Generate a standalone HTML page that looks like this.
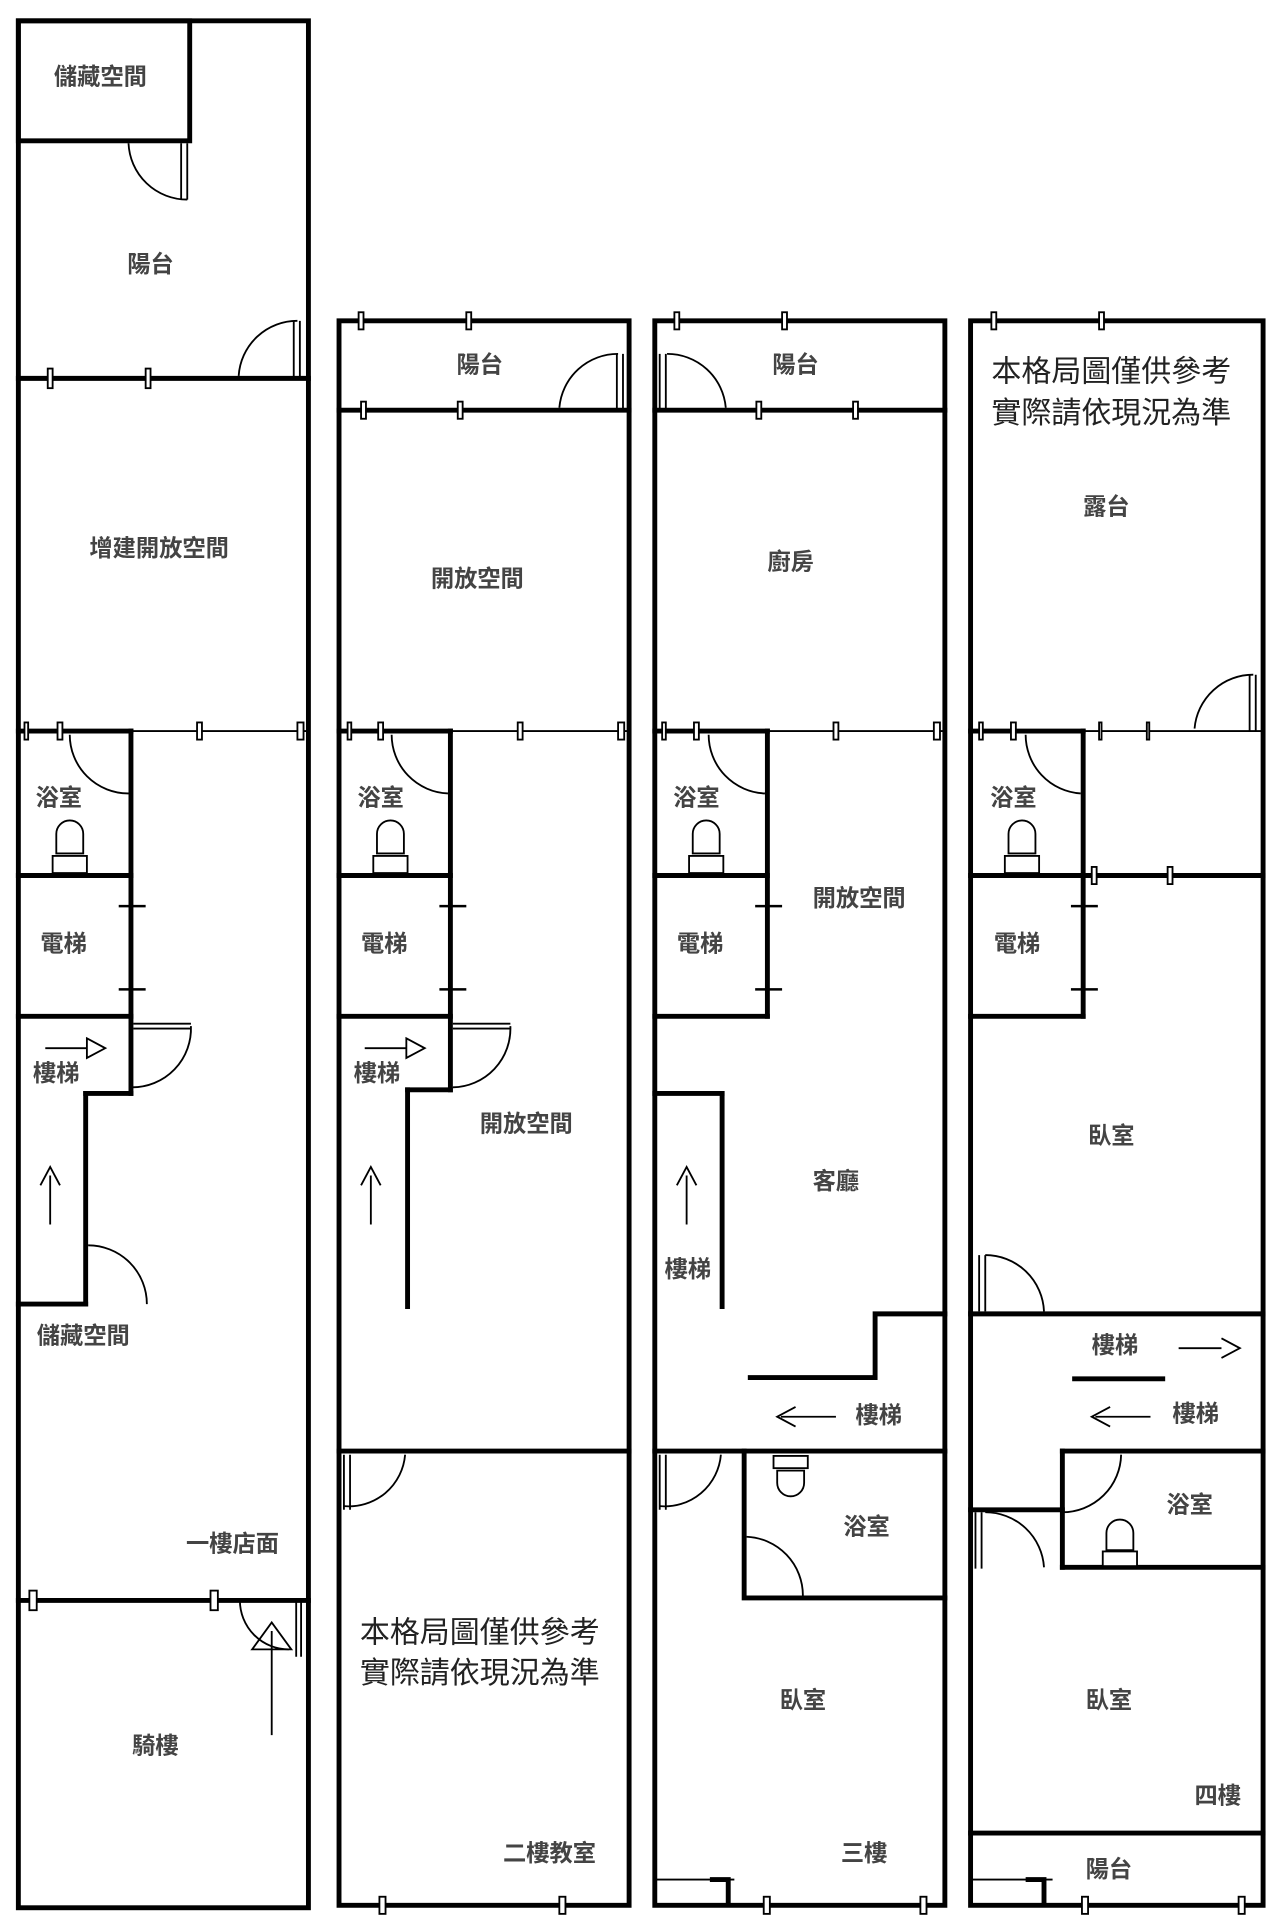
<!DOCTYPE html>
<html><head><meta charset="utf-8"><style>
html,body{margin:0;padding:0;background:#fff;}
svg{display:block;}
text{font-family:"Liberation Sans","Noto Sans CJK TC",sans-serif;fill:#444;font-size:19px;text-anchor:middle;dominant-baseline:middle;font-weight:bold;}
.n{fill:#222;font-weight:normal;font-size:24.5px;}
</style></head><body>
<svg width="1279" height="1920" viewBox="0 0 1045 1568" preserveAspectRatio="none" xmlns="http://www.w3.org/2000/svg">
<g stroke="#000" stroke-width="4" fill="none" stroke-linecap="square">
<rect x="15" y="17" width="237" height="1541"/>
<rect x="15" y="17" width="140" height="98"/>
<line x1="15" y1="309" x2="252" y2="309"/>
<line x1="15" y1="1307" x2="252" y2="1307"/>
<line x1="107" y1="597" x2="107" y2="893"/>
<line x1="15" y1="715" x2="107" y2="715"/>
<line x1="15" y1="830" x2="107" y2="830"/>
<line x1="70" y1="893" x2="107" y2="893"/>
<line x1="70" y1="893" x2="70" y2="1065"/>
<line x1="15" y1="1065" x2="70" y2="1065"/>
<line x1="15" y1="597" x2="107" y2="597"/>
<rect x="277" y="262" width="237" height="1294"/>
<line x1="277" y1="335" x2="514" y2="335"/>
<line x1="277" y1="597" x2="368" y2="597"/>
<line x1="368" y1="597" x2="368" y2="890"/>
<line x1="277" y1="715" x2="368" y2="715"/>
<line x1="277" y1="830" x2="368" y2="830"/>
<line x1="333" y1="890" x2="368" y2="890"/>
<line x1="333" y1="890" x2="333" y2="1067"/>
<line x1="277" y1="1185" x2="514" y2="1185"/>
<rect x="535" y="262" width="237" height="1294"/>
<line x1="535" y1="335" x2="772" y2="335"/>
<line x1="535" y1="597" x2="627" y2="597"/>
<line x1="627" y1="597" x2="627" y2="830"/>
<line x1="535" y1="715" x2="627" y2="715"/>
<line x1="535" y1="830" x2="627" y2="830"/>
<line x1="535" y1="893" x2="590" y2="893"/>
<line x1="590" y1="893" x2="590" y2="1067"/>
<polyline points="613,1125 715,1125 715,1073 772,1073"/>
<line x1="535" y1="1185" x2="772" y2="1185"/>
<polyline points="608,1185 608,1305 772,1305"/>
<rect x="793" y="262" width="239" height="1294"/>
<line x1="793" y1="597" x2="885" y2="597"/>
<line x1="885" y1="597" x2="885" y2="830"/>
<line x1="793" y1="715" x2="1032" y2="715"/>
<line x1="793" y1="830" x2="885" y2="830"/>
<line x1="793" y1="1073" x2="1032" y2="1073"/>
<line x1="878" y1="1126" x2="950" y2="1126"/>
<line x1="868" y1="1185" x2="1032" y2="1185"/>
<line x1="868" y1="1185" x2="868" y2="1280"/>
<line x1="868" y1="1280" x2="1032" y2="1280"/>
<line x1="793" y1="1233" x2="868" y2="1233"/>
<line x1="793" y1="1497" x2="1032" y2="1497"/>
</g>
<g stroke="#000" stroke-width="1.5" fill="none">
<line x1="107" y1="597" x2="252" y2="597"/>
<line x1="368" y1="597" x2="514" y2="597"/>
<line x1="627" y1="597" x2="772" y2="597"/>
<line x1="885" y1="597" x2="1032" y2="597"/>
<line x1="535" y1="1535" x2="600" y2="1535"/>
<line x1="793" y1="1535" x2="860" y2="1535"/>
</g>
<g fill="#fff" stroke="#000" stroke-width="1.5">
<rect x="39" y="301" width="4" height="16"/><rect x="119" y="301" width="4" height="16"/>
<rect x="24" y="1299" width="6" height="16"/><rect x="172" y="1299" width="6" height="16"/>
<rect x="20" y="590" width="3" height="14"/><rect x="47" y="590" width="4" height="14"/><rect x="161" y="590" width="4" height="14"/><rect x="243" y="590" width="5" height="14"/>
<rect x="293" y="255" width="4" height="14"/><rect x="381" y="255" width="4" height="14"/>
<rect x="295" y="328" width="4" height="14"/><rect x="374" y="328" width="4" height="14"/>
<rect x="284" y="590" width="3" height="14"/><rect x="309" y="590" width="4" height="14"/><rect x="423" y="590" width="4" height="14"/><rect x="505" y="590" width="5" height="14"/>
<rect x="310" y="1549" width="5" height="14"/><rect x="457" y="1549" width="5" height="14"/>
<rect x="551" y="255" width="4" height="14"/><rect x="639" y="255" width="4" height="14"/>
<rect x="618" y="328" width="4" height="14"/><rect x="697" y="328" width="4" height="14"/>
<rect x="541" y="590" width="3" height="14"/><rect x="567" y="590" width="4" height="14"/><rect x="681" y="590" width="4" height="14"/><rect x="763" y="590" width="5" height="14"/>
<rect x="624" y="1549" width="5" height="14"/><rect x="752" y="1549" width="5" height="14"/>
<rect x="810" y="255" width="4" height="14"/><rect x="898" y="255" width="4" height="14"/>
<rect x="800" y="590" width="3" height="14"/><rect x="826" y="590" width="4" height="14"/><rect x="937" y="590" width="2" height="14"/><rect x="898" y="590" width="2" height="14"/>
<rect x="892" y="708" width="4" height="14"/><rect x="954" y="708" width="4" height="14"/>
<rect x="884" y="1549" width="5" height="14"/><rect x="1012" y="1549" width="5" height="14"/>
</g>
<g stroke="#000" stroke-width="4" fill="none">
<polyline points="580,1535 595,1535 595,1556"/>
<polyline points="838,1535 853,1535 853,1556"/>
</g>
<g stroke="#000" stroke-width="2" fill="none">
<path d="M97 740h22M97 808h22M359 740h22M359 808h22M617 740h22M617 808h22M875 740h22M875 808h22"/>
</g>
<g stroke="#000" stroke-width="1.5" fill="none">
<path d="M105 117 A48 48 0 0 0 153 163"/><path d="M148 117v46M153 117v46"/>
<path d="M195 307 A48 48 0 0 1 243 262"/><path d="M240 262v46M245 262v46"/>
<path d="M57 600 A48 48 0 0 0 105 648"/>
<path d="M109 836h47M109 840h47"/><path d="M156 838 A48 48 0 0 1 108 888"/>
<path d="M72 1017 A48 48 0 0 1 120 1065"/>
<path d="M196 1307 A40 40 0 0 0 236 1347"/><path d="M242 1307v46M246 1307v46"/>
<path d="M457 333 A48 48 0 0 1 505 289"/><path d="M504 289v46M509 289v46"/>
<path d="M320 600 A48 48 0 0 0 366 648"/>
<path d="M370 836h47M370 840h47"/><path d="M417 838 A48 48 0 0 1 370 888"/>
<path d="M281 1230 A46 46 0 0 0 331 1188"/><path d="M281 1188v45M286 1188v45"/>
<path d="M593 333 A48 48 0 0 0 545 289"/><path d="M539 289v46M544 289v46"/>
<path d="M579 600 A48 48 0 0 0 625 648"/>
<path d="M539 1230 A46 46 0 0 0 589 1188"/><path d="M539 1188v45M544 1188v45"/>
<path d="M610 1255 A48 48 0 0 1 656 1303"/>
<path d="M976 595 A48 48 0 0 1 1024 551"/><path d="M1021 551v46M1026 551v46"/>
<path d="M838 600 A48 48 0 0 0 883 648"/>
<path d="M853 1071 A48 48 0 0 0 805 1025"/><path d="M800 1025v46M805 1025v46"/>
<path d="M868 1235 A48 48 0 0 0 916 1188"/>
<path d="M853 1280 A48 48 0 0 0 805 1235"/><path d="M797 1235v46M802 1235v46"/>
</g>
<g stroke="#000" stroke-width="1.5" fill="#fff">
<path d="M46 697 v-16 a11 11 0 0 1 22 0 v16z"/><rect x="43" y="699" width="28" height="14"/>
<path d="M308 697 v-16 a11 11 0 0 1 22 0 v16z"/><rect x="305" y="699" width="28" height="14"/>
<path d="M566 697 v-16 a11 11 0 0 1 22 0 v16z"/><rect x="563" y="699" width="28" height="14"/>
<path d="M824 697 v-16 a11 11 0 0 1 22 0 v16z"/><rect x="821" y="699" width="28" height="14"/>
<rect x="632" y="1189" width="28" height="10"/><path d="M635 1201 v10 a11 11 0 0 0 22 0 v-10z"/>
<path d="M904 1266 v-14 a11 11 0 0 1 22 0 v14z"/><rect x="901" y="1267" width="28" height="12"/>
</g>
<g stroke="#000" stroke-width="1.5" fill="none">
<path d="M37 856h34M71 848l15 8-15 8z"/>
<path d="M41 1000v-40M33 968l8-15 8 15"/>
<path d="M298 856h34M332 848l15 8-15 8z"/>
<path d="M303 1000v-40M295 968l8-15 8 15"/>
<path d="M561 1000v-40M553 968l8-15 8 15"/>
<path d="M222 1417v-85M206 1347l16-22 16 22z"/>
<path d="M683 1157h-45M650 1149l-15 8 15 8"/>
<path d="M940 1157h-45M907 1149l-15 8 15 8"/>
<path d="M963 1101h35M998 1093l15 8-15 8"/>
</g>
<text x="82" y="64">儲藏空間</text>
<text x="123" y="217">陽台</text>
<text x="130" y="449">增建開放空間</text>
<text x="48" y="653">浴室</text>
<text x="52" y="772">電梯</text>
<text x="46" y="878">樓梯</text>
<text x="68" y="1092">儲藏空間</text>
<text x="190" y="1262">一樓店面</text>
<text x="127" y="1427">騎樓</text>
<text x="392" y="299">陽台</text>
<text x="390" y="474">開放空間</text>
<text x="311" y="653">浴室</text>
<text x="314" y="772">電梯</text>
<text x="308" y="878">樓梯</text>
<text x="430" y="919">開放空間</text>
<text class="n" x="392" y="1335">本格局圖僅供參考</text>
<text class="n" x="392" y="1368">實際請依現況為準</text>
<text x="449" y="1515">二樓教室</text>
<text x="650" y="299">陽台</text>
<text x="646" y="460">廚房</text>
<text x="569" y="653">浴室</text>
<text x="572" y="772">電梯</text>
<text x="702" y="735">開放空間</text>
<text x="683" y="966">客廳</text>
<text x="562" y="1038">樓梯</text>
<text x="718" y="1157">樓梯</text>
<text x="708" y="1248">浴室</text>
<text x="656" y="1390">臥室</text>
<text x="706" y="1515">三樓</text>
<text class="n" x="908" y="305">本格局圖僅供參考</text>
<text class="n" x="908" y="339">實際請依現況為準</text>
<text x="904" y="415">露台</text>
<text x="828" y="653">浴室</text>
<text x="831" y="772">電梯</text>
<text x="908" y="929">臥室</text>
<text x="911" y="1100">樓梯</text>
<text x="977" y="1156">樓梯</text>
<text x="972" y="1230">浴室</text>
<text x="906" y="1390">臥室</text>
<text x="995" y="1468">四樓</text>
<text x="906" y="1528">陽台</text>
</svg>
</body></html>
